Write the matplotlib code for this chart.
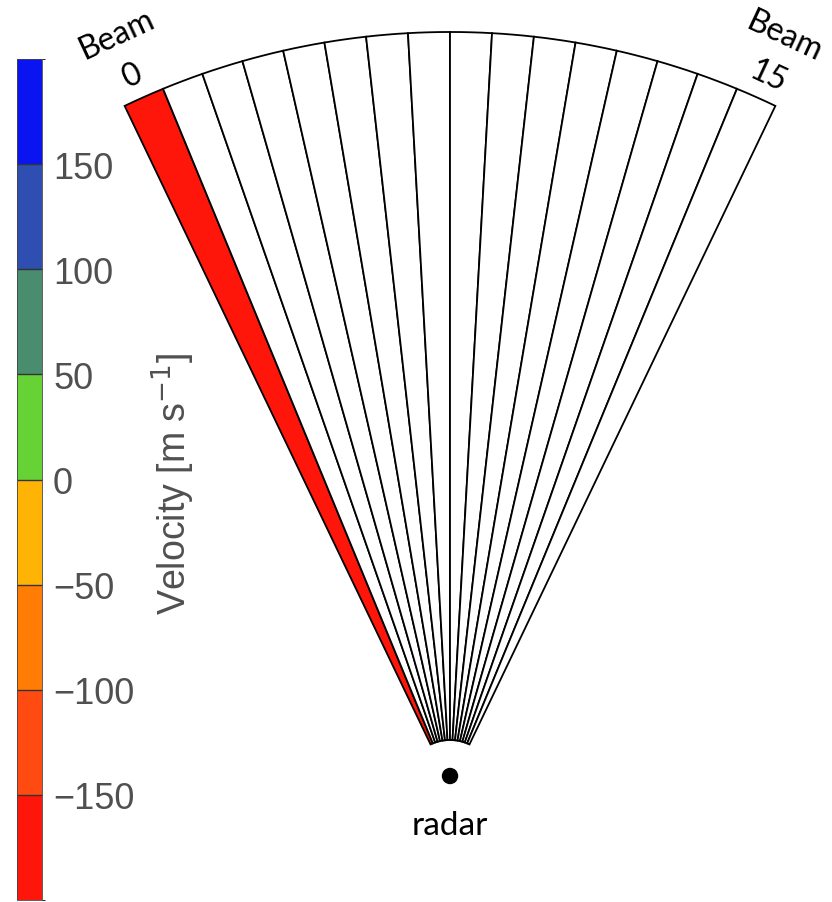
import numpy as np
import matplotlib
matplotlib.use("Agg")
import matplotlib.pyplot as plt
from matplotlib.patches import Wedge, Circle
from matplotlib.colors import ListedColormap, BoundaryNorm
import matplotlib.colorbar as mcolorbar

# ---- data ----
beams = list(range(16))
beam_velocity = [-175] + [np.nan] * 15          # only beam 0 has data
bounds = [-200, -150, -100, -50, 0, 50, 100, 150, 200]
tick_values = [-150, -100, -50, 0, 50, 100, 150]
bin_colors = ["#FF160A", "#FF4A12", "#FF7D05", "#FFB405",
              "#66D236", "#4A8C6E", "#2E4EB2", "#0A14F0"]

W, H = 832, 903
fig = plt.figure(figsize=(W / 100, H / 100), dpi=100)
ax = fig.add_axes([0, 0, 1, 1])
ax.set_xlim(0, W)
ax.set_ylim(0, H)
ax.axis("off")

cmap = ListedColormap(bin_colors)
norm = BoundaryNorm(bounds, cmap.N)

# fan geometry
cx, cy = 450, H - 786
r_out, r_in = 753, 45
half = 25.6
dtheta = 2 * half / len(beams)
for b, v in zip(beams, beam_velocity):
    t2 = 90 + half - dtheta * b
    t1 = t2 - dtheta
    fc = "white" if np.isnan(v) else cmap(norm(v))
    ax.add_patch(Wedge((cx, cy), r_out, t1, t2, width=r_out - r_in,
                       facecolor=fc, edgecolor="black", linewidth=1.3))

# radar
ax.add_patch(Circle((450, H - 777), 7.5, color="black"))
lab_font = ["Lato", "DejaVu Sans"]
ax.text(450, H - 826, "radar", ha="center", va="center", fontsize=24,
        family=lab_font)

ax.text(116, H - 35, "Beam", ha="center", va="center", fontsize=23,
        rotation=25, family=lab_font)
ax.text(133, H - 76, "0", ha="center", va="center", fontsize=23,
        rotation=25, family=lab_font)
ax.text(784, H - 37, "Beam", ha="center", va="center", fontsize=23,
        rotation=-25, family=lab_font)
ax.text(768, H - 77, "15", ha="center", va="center", fontsize=23,
        rotation=-25, family=lab_font)

# colorbar
cax = fig.add_axes([17 / W, 2 / H, 25 / W, 841 / H])
cb = mcolorbar.ColorbarBase(cax, cmap=cmap, norm=norm, boundaries=bounds,
                            ticks=tick_values, drawedges=True,
                            orientation="vertical")
cb.outline.set_linewidth(0.6)
cb.outline.set_edgecolor("#444444")
cb.dividers.set_color("#333333")
cb.dividers.set_linewidth(1.0)
cax.tick_params(length=0, pad=8, labelsize=26, labelcolor="#505050")
for t in cax.get_yticklabels():
    t.set_family(["Liberation Sans", "DejaVu Sans"])

fig.text(173 / W, 1 - 484 / H, "Velocity [m s$^{-1}$]", rotation=90,
         ha="center", va="center", fontsize=27, color="#505050",
         family=["Liberation Sans", "DejaVu Sans"])

fig.savefig("out.png", dpi=100)
